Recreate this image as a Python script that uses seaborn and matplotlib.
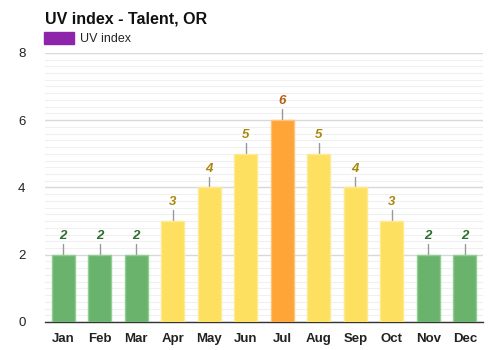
import matplotlib
matplotlib.use("Agg")
import matplotlib.pyplot as plt
from matplotlib.patches import Patch
from matplotlib.ticker import MultipleLocator
import seaborn as sns
import pandas as pd

months = ["Jan", "Feb", "Mar", "Apr", "May", "Jun", "Jul", "Aug", "Sep", "Oct", "Nov", "Dec"]
uv_index = [2, 2, 2, 3, 4, 5, 6, 5, 4, 3, 2, 2]
level = ["low", "low", "low", "moderate", "moderate", "moderate", "high",
         "moderate", "moderate", "moderate", "low", "low"]

bar_colors = {"low": "#69b36d", "moderate": "#fde05f", "high": "#ffa436"}
edge_colors = {"low": "#8fcf92", "moderate": "#feea90", "high": "#ffc27a"}
text_colors = {"low": "#2e6e31", "moderate": "#a8880c", "high": "#b55f12"}

df = pd.DataFrame({"month": months, "uv": uv_index, "level": level})

sns.set_style("white")
plt.rcParams["font.family"] = ["Liberation Sans", "DejaVu Sans"]

fig = plt.figure(figsize=(5, 3.5), dpi=100)
ax = fig.add_axes([0.09, 0.08, 0.876, 0.769])

sns.barplot(data=df, x="month", y="uv", hue="level", palette=bar_colors,
            saturation=1, dodge=False, width=0.64, legend=False, ax=ax, zorder=3)

for patch, lv in zip(sorted(ax.patches, key=lambda p: p.get_x()), level):
    patch.set_edgecolor(edge_colors[lv])
    patch.set_linewidth(1.0)

for i, (v, lv) in enumerate(zip(uv_index, level)):
    ax.plot([i, i], [v, v + 0.32], color="#999999", lw=1, zorder=2)
    ax.text(i, v + 0.38, str(v), ha="center", va="bottom", fontsize=9.5,
            fontweight="bold", fontstyle="italic", color=text_colors[lv])

ax.set_ylim(0, 8)
ax.set_xlim(-0.5, 11.5)
ax.yaxis.set_major_locator(MultipleLocator(2))
ax.yaxis.set_minor_locator(MultipleLocator(0.2))
ax.grid(which="major", axis="y", color="#d8d8d8", lw=1, zorder=0)
ax.grid(which="minor", axis="y", color="#f0f0f0", lw=0.8, zorder=0)
ax.set_axisbelow(True)

for side in ["top", "right", "left"]:
    ax.spines[side].set_visible(False)
ax.spines["bottom"].set_color("#333333")
ax.spines["bottom"].set_linewidth(1)

ax.set_xlabel("")
ax.set_ylabel("")
ax.tick_params(axis="x", length=0, pad=8, labelsize=9.5, labelcolor="#222222")
for lbl in ax.get_xticklabels():
    lbl.set_fontweight("bold")
ax.tick_params(axis="y", which="both", length=0, pad=14, labelsize=9.5, labelcolor="#222222")

fig.text(0.09, 0.945, "UV index - Talent, OR", fontsize=11.5, fontweight="bold",
         color="#111111", ha="left", va="center")
fig.legend(handles=[Patch(facecolor="#8e24aa", edgecolor="#8e24aa", label="UV index")],
           loc="center left", bbox_to_anchor=(0.065, 0.89), frameon=False,
           fontsize=9, handlelength=2.4, handleheight=1.1, handletextpad=0.5)

fig.savefig("out.png", dpi=100)
